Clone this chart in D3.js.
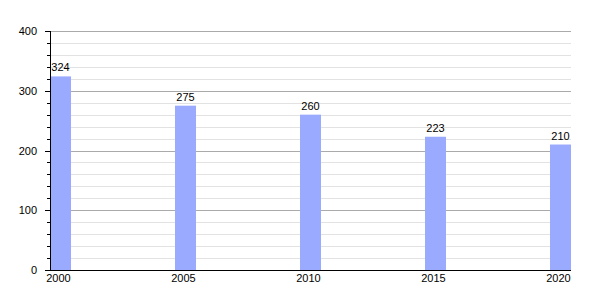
<!DOCTYPE html>
<html><head><meta charset="utf-8">
<script src="https://cdn.jsdelivr.net/npm/d3@7"></script>
<style>body{margin:0;background:#fff}svg{display:block}text{font-family:"Liberation Sans",Arial,sans-serif;font-size:11px;fill:#000}</style>
</head><body>
<script>
const years = [2000, 2005, 2010, 2015, 2020];
const values = [324, 275, 260, 223, 210];
const yTicks = [0, 100, 200, 300, 400];

(function () {
const W = 600, H = 300;
const mLeft = 50, mRight = 571, mTop = 31, mBottom = 270;
const barW = 21;
const svg = d3.select("body").append("svg").attr("width", W).attr("height", H);

const y = d3.scaleLinear().domain([0, 400]).range([mBottom, mTop]);
const x = d3.scaleLinear().domain([2000, 2020]).range([mLeft + barW / 2, mRight - barW / 2]);

const minor = d3.range(0, 401, 20).filter(v => v % 100 !== 0);
svg.append("g").selectAll("line").data(minor).join("line")
  .attr("x1", mLeft).attr("x2", mRight).attr("y1", d => Math.round(y(d)) + 0.5).attr("y2", d => Math.round(y(d)) + 0.5)
  .attr("stroke", "#e2e2e2").attr("stroke-width", 1);
svg.append("g").selectAll("line").data(yTicks.filter(v => v > 0)).join("line")
  .attr("x1", mLeft).attr("x2", mRight).attr("y1", d => Math.round(y(d)) + 0.5).attr("y2", d => Math.round(y(d)) + 0.5)
  .attr("stroke", "#aaaaaa").attr("stroke-width", 1);

svg.append("g").selectAll("line").data(minor).join("line")
  .attr("x1", mLeft - 3).attr("x2", mLeft).attr("y1", d => Math.round(y(d)) + 0.5).attr("y2", d => Math.round(y(d)) + 0.5)
  .attr("stroke", "#000");
svg.append("g").selectAll("line").data(yTicks).join("line")
  .attr("x1", mLeft - 5).attr("x2", mLeft).attr("y1", d => Math.round(y(d)) + 0.5).attr("y2", d => Math.round(y(d)) + 0.5)
  .attr("stroke", "#000");

svg.append("g").selectAll("rect").data(values).join("rect")
  .attr("x", (d, i) => x(years[i]) - barW / 2).attr("width", barW)
  .attr("y", d => y(d)).attr("height", d => mBottom - y(d))
  .attr("fill", "#99aaff");

svg.append("g").selectAll("text").data(values).join("text")
  .attr("x", (d, i) => x(years[i]))
  .attr("y", d => y(d) - 5)
  .attr("text-anchor", "middle").text(d => d);

svg.append("g").selectAll("text").data(yTicks).join("text")
  .attr("x", 37).attr("y", d => y(d) + 4)
  .attr("text-anchor", "end").text(d => d);

svg.append("g").selectAll("text").data(years).join("text")
  .attr("x", d => x(d) - 2).attr("y", 282)
  .attr("text-anchor", "middle").text(d => d);

svg.append("line").attr("x1", mLeft + 0.5).attr("x2", mLeft + 0.5).attr("y1", mTop).attr("y2", mBottom + 0.5)
  .attr("stroke", "#000");
svg.append("line").attr("x1", mLeft - 5).attr("x2", mRight).attr("y1", mBottom + 0.5).attr("y2", mBottom + 0.5)
  .attr("stroke", "#000");
})();
</script>
</body></html>
